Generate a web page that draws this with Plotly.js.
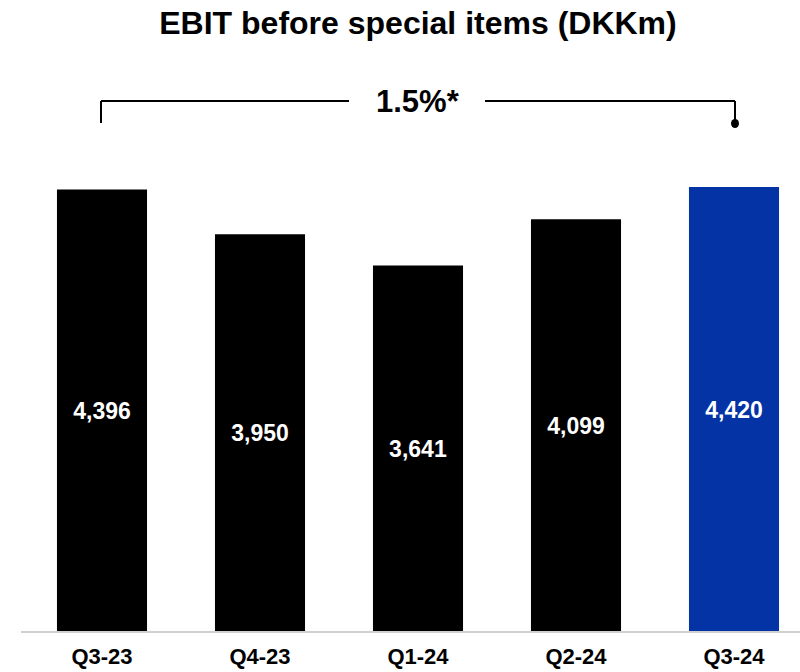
<!DOCTYPE html>
<html><head><meta charset="utf-8">
<script src="https://cdn.plot.ly/plotly-3.0.1.min.js"></script>
<style>html,body{margin:0;padding:0;background:#fff}#c{width:800px;height:672px}</style>
</head><body><div id="c"></div>
<script>
const categories = ["Q3-23", "Q4-23", "Q1-24", "Q2-24", "Q3-24"];
const ebitValues = [4396, 3950, 3641, 4099, 4420];
const barColors = ["#000000", "#000000", "#000000", "#000000", "#0433A6"];
const growthLabel = "1.5%*";
const chartTitle = "EBIT before special items (DKKm)";

const F = "Liberation Sans, Arial, sans-serif";
const trace = {
  type: "bar",
  x: categories,
  y: ebitValues,
  marker: {color: barColors, line: {width: 0}},
  width: 0.57,
  text: ebitValues.map(v => v.toLocaleString("en-US")),
  textposition: "inside",
  insidetextanchor: "middle",
  textangle: 0,
  textfont: {family: F, size: 23, color: "#ffffff", weight: "bold"},
  hoverinfo: "skip",
  cliponaxis: false
};
const x0 = -102/158;
const layout = {
  width: 800, height: 672,
  margin: {l: 0, r: 0, t: 80, b: 40},
  paper_bgcolor: "#fff", plot_bgcolor: "#fff",
  showlegend: false,
  title: {text: chartTitle, x: 418/800, xanchor: "center", y: 1 - 23/672, yanchor: "middle",
          font: {family: F, size: 32, color: "#000", weight: "bold"}},
  xaxis: {range: [x0, x0 + 800/158], showgrid: false, zeroline: false, showline: false, automargin: false,
          ticks: "", ticklabelstandoff: 9, tickfont: {family: F, size: 22, color: "#000", weight: "bold"}, fixedrange: true},
  yaxis: {range: [0, 552/(445/4420)], visible: false, fixedrange: true},
  shapes: [
    {type: "line", xref: "paper", yref: "paper", x0: 21/800, x1: 1, y0: 0, y1: 0, line: {color: "#d0d0d0", width: 2}},
    {type: "line", xref: "paper", yref: "paper", x0: 101/800, x1: 349/800, y0: (632-101)/552, y1: (632-101)/552, line: {color: "#000", width: 2}},
    {type: "line", xref: "paper", yref: "paper", x0: 485/800, x1: 735/800, y0: (632-101)/552, y1: (632-101)/552, line: {color: "#000", width: 2}},
    {type: "line", xref: "paper", yref: "paper", x0: 101/800, x1: 101/800, y0: (632-101)/552, y1: (632-123)/552, line: {color: "#000", width: 2}},
    {type: "line", xref: "paper", yref: "paper", x0: 735/800, x1: 735/800, y0: (632-101)/552, y1: (632-122)/552, line: {color: "#000", width: 2}},
    {type: "circle", xref: "paper", yref: "paper", x0: 731/800, x1: 739/800, y0: (632-119)/552, y1: (632-128)/552, fillcolor: "#000", line: {color: "#000", width: 0}}
  ],
  annotations: [
    {text: growthLabel, xref: "paper", yref: "paper", x: 418/800, y: (632-102)/552, xanchor: "center", yanchor: "middle",
     showarrow: false, font: {family: F, size: 31, color: "#000", weight: "bold"}}
  ]
};
Plotly.newPlot("c", [trace], layout, {displayModeBar: false, staticPlot: true});
</script></body></html>
